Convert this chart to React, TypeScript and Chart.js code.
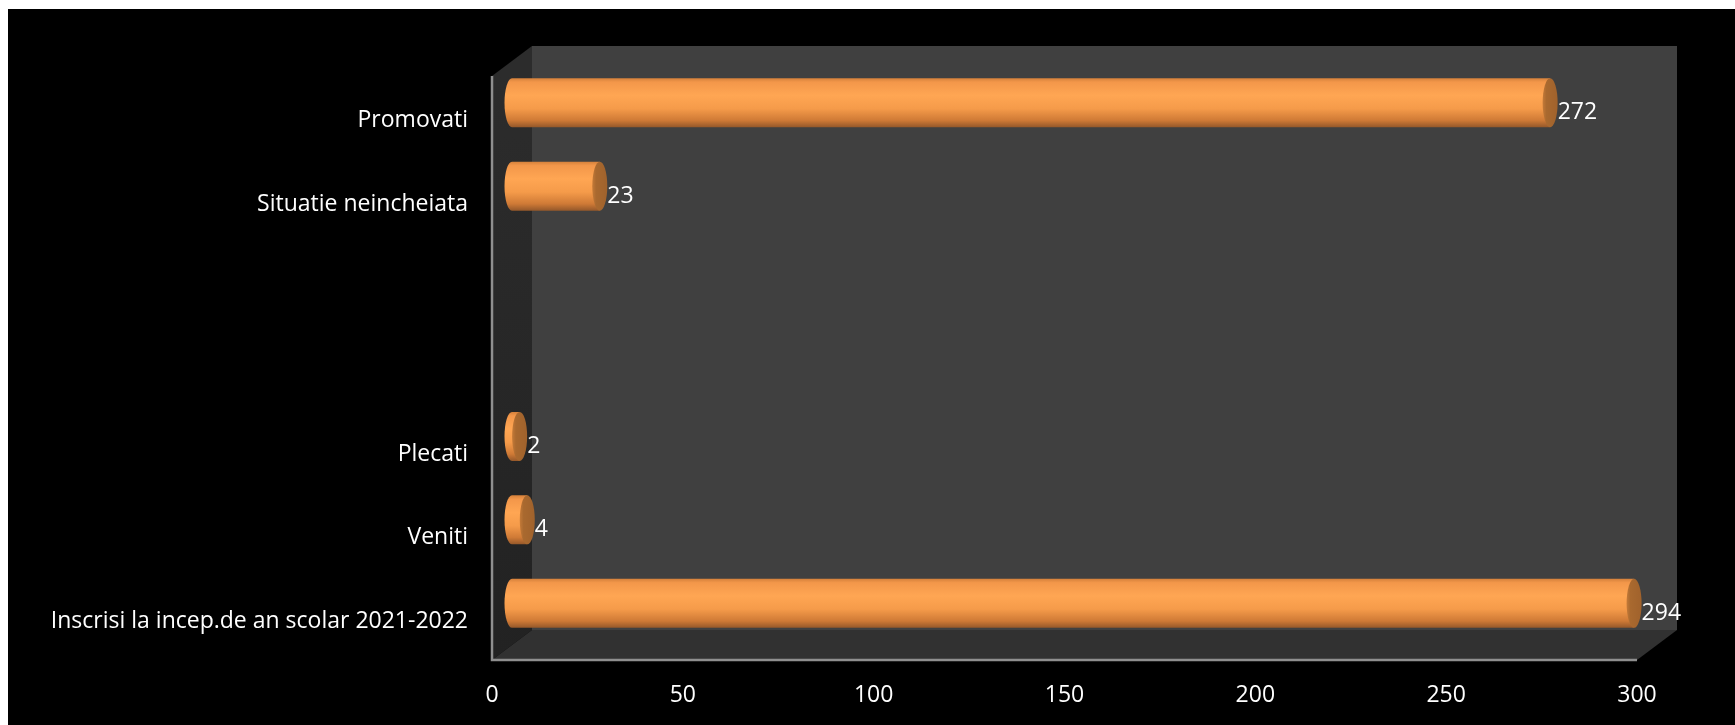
import React, { useEffect, useRef } from "react";
import { Chart, registerables } from "chart.js";

Chart.register(...registerables);

const categories = [
  "Inscrisi la incep.de an scolar 2021-2022",
  "Veniti",
  "Plecati",
  "",
  "",
  "Situatie neincheiata",
  "Promovati",
];
const values: (number | null)[] = [294, 4, 2, null, null, 23, 272];
const xTicks = [0, 50, 100, 150, 200, 250, 300];

const FONT = "'Open Sans', Lato, sans-serif";
const DEPTH_X = 40;
const DEPTH_Y = -30;

const box3d = {
  id: "box3d",
  beforeDatasetsDraw(chart: any) {
    const { ctx, chartArea } = chart;
    const { left: L, right: R, top: T, bottom: B } = chartArea;
    ctx.save();
    // back wall
    ctx.fillStyle = "#404040";
    ctx.fillRect(L + DEPTH_X, T + DEPTH_Y, R - L, B - T);
    // side wall
    const sg = ctx.createLinearGradient(0, T, 0, B);
    sg.addColorStop(0, "#2c2c2c");
    sg.addColorStop(1, "#222222");
    ctx.fillStyle = sg;
    ctx.beginPath();
    ctx.moveTo(L, T);
    ctx.lineTo(L + DEPTH_X, T + DEPTH_Y);
    ctx.lineTo(L + DEPTH_X, B + DEPTH_Y);
    ctx.lineTo(L, B);
    ctx.closePath();
    ctx.fill();
    // floor
    ctx.fillStyle = "#313131";
    ctx.beginPath();
    ctx.moveTo(L, B);
    ctx.lineTo(L + DEPTH_X, B + DEPTH_Y);
    ctx.lineTo(R + DEPTH_X, B + DEPTH_Y);
    ctx.lineTo(R, B);
    ctx.closePath();
    ctx.fill();
    // axis lines
    ctx.strokeStyle = "#8f8f8f";
    ctx.lineWidth = 2.5;
    ctx.beginPath();
    ctx.moveTo(L, T);
    ctx.lineTo(L, B);
    ctx.lineTo(R, B);
    ctx.stroke();
    ctx.restore();
  },
  afterDatasetsDraw(chart: any) {
    const { ctx } = chart;
    const meta = chart.getDatasetMeta(0);
    const ox = DEPTH_X / 2;
    const oy = DEPTH_Y / 2;
    const rx = 7.5;
    ctx.save();
    meta.data.forEach((el: any, i: number) => {
      const v = values[i];
      if (v === null || v === undefined) return;
      const p = el.getProps(["x", "y", "base", "height"], true);
      const cy = p.y + oy;
      const h = p.height;
      const x0 = p.base + ox;
      const x1 = p.x + ox;
      const top = cy - h / 2;
      const g = ctx.createLinearGradient(0, top, 0, top + h);
      g.addColorStop(0, "#d5813b");
      g.addColorStop(0.08, "#f3974a");
      g.addColorStop(0.35, "#ffa653");
      g.addColorStop(0.62, "#f59b4a");
      g.addColorStop(0.86, "#cf7a36");
      g.addColorStop(1, "#95582a");
      ctx.fillStyle = g;
      // left rounded end
      ctx.beginPath();
      ctx.ellipse(x0, cy, rx, h / 2, 0, Math.PI / 2, (Math.PI * 3) / 2);
      ctx.lineTo(x1, top);
      ctx.lineTo(x1, top + h);
      ctx.closePath();
      ctx.fill();
      // right cap
      const cg = ctx.createLinearGradient(x1 - rx, 0, x1 + rx, 0);
      cg.addColorStop(0, "#c47a38");
      cg.addColorStop(0.25, "#a9692f");
      cg.addColorStop(1, "#a0622c");
      ctx.fillStyle = cg;
      ctx.beginPath();
      ctx.ellipse(x1, cy, rx, h / 2, 0, 0, Math.PI * 2);
      ctx.fill();
      // data label
      ctx.fillStyle = "#ffffff";
      ctx.font = `23px ${FONT}`;
      ctx.textAlign = "left";
      ctx.textBaseline = "middle";
      ctx.fillText(String(v), x1 + rx, cy + 10);
    });
    ctx.restore();
  },
};

export default function App() {
  const ref = useRef<HTMLCanvasElement | null>(null);
  useEffect(() => {
    if (!ref.current) return;
    const chart = new Chart(ref.current, {
      type: "bar",
      data: {
        labels: categories,
        datasets: [
          {
            data: values as any,
            backgroundColor: "rgba(0,0,0,0)",
            borderWidth: 0,
            categoryPercentage: 1,
            barPercentage: 0.587,
          },
        ],
      },
      options: {
        indexAxis: "y",
        animation: false,
        responsive: false,
        maintainAspectRatio: false,
        layout: { padding: { left: 0, right: 98, top: 67, bottom: 0 } },
        plugins: {
          legend: { display: false },
          tooltip: { enabled: false },
          title: { display: false },
        },
        scales: {
          x: {
            type: "linear",
            min: 0,
            max: 300,
            afterBuildTicks: (scale: any) => {
              scale.ticks = xTicks.map((v) => ({ value: v }));
            },
            afterFit: (scale: any) => {
              scale.height = 65;
            },
            grid: { display: false, drawTicks: false },
            border: { display: false },
            ticks: {
              color: "#ffffff",
              font: { family: FONT, size: 23 },
              padding: 22,
              maxRotation: 0,
              autoSkip: false,
            },
          },
          y: {
            reverse: true,
            afterFit: (scale: any) => {
              scale.width = 484;
            },
            grid: { display: false, drawTicks: false },
            border: { display: false },
            ticks: {
              color: "#ffffff",
              font: { family: FONT, size: 23 },
              padding: 24,
              labelOffset: 3,
              autoSkip: false,
            },
          },
        },
      },
      plugins: [box3d],
    });
    return () => chart.destroy();
  }, []);
  return (
    <div
      style={{
        position: "absolute",
        left: 8,
        top: 9,
        width: 1727,
        height: 716,
        background: "#000000",
      }}
    >
      <canvas
        ref={ref}
        width={1727}
        height={716}
        style={{ display: "block", width: 1727, height: 716 }}
      />
    </div>
  );
}
